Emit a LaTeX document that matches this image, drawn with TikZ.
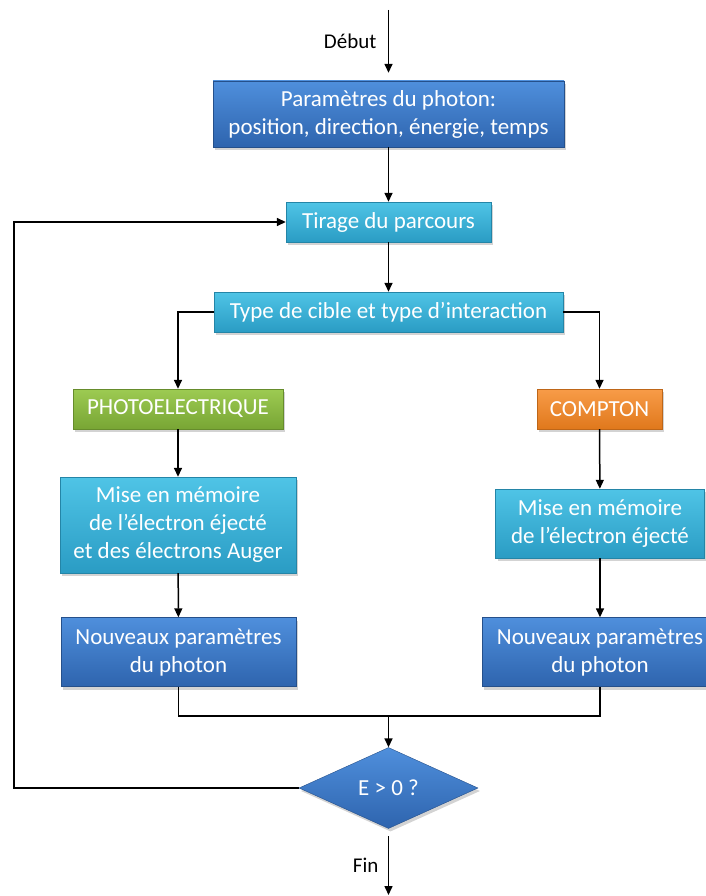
\documentclass[tikz,border=0pt]{standalone}
\usepackage{fontspec}
\setmainfont{Carlito}
\usetikzlibrary{arrows.meta,shapes.geometric,shadows}

\definecolor{bleuF}{HTML}{3C7BC8}
\definecolor{bleuFh}{HTML}{4F8FDC}
\definecolor{bleuFb}{HTML}{2E64AE}
\definecolor{cyanh}{HTML}{4FC4E6}
\definecolor{cyanb}{HTML}{2A9CC4}
\definecolor{verth}{HTML}{9DCB52}
\definecolor{vertb}{HTML}{78A534}
\definecolor{orangeh}{HTML}{F89C48}
\definecolor{orangeb}{HTML}{E0781C}

\begin{document}
\begin{tikzpicture}[x=1pt,y=-1pt,
    boite/.style={rectangle,inner sep=0pt,align=center,text=white,
      font=\fontsize{23}{28}\selectfont,
      drop shadow={opacity=0.35,shadow xshift=2pt,shadow yshift=-3pt}},
    bleu/.style={boite,top color=bleuFh,bottom color=bleuFb,draw=bleuFb!80!black},
    ciel/.style={boite,top color=cyanh,bottom color=cyanb,draw=cyanb!85!black},
    vert/.style={boite,top color=verth,bottom color=vertb,draw=vertb!85!black},
    orange/.style={boite,top color=orangeh,bottom color=orangeb,draw=orangeb!85!black},
    fleche/.style={draw,line width=1.5pt,-{Triangle[length=9pt,width=8pt]}},
    trait/.style={draw,line width=1.5pt},
    etiquette/.style={font=\fontsize{21}{25}\selectfont}]
      \useasboundingbox (0,0) rectangle (705,896);
      % blocs
      \node[bleu,minimum width=351pt,minimum height=66pt] (param) at (388.5,114)
        {Paramètres du photon:\\position, direction, énergie, temps};
      \node[ciel,minimum width=205pt,minimum height=40pt] (tirage) at (388.5,222) {Tirage du parcours};
      \node[ciel,minimum width=349pt,minimum height=40pt] (type) at (388.5,312) {Type de cible et type d’interaction};
      \node[vert,minimum width=210pt,minimum height=40pt] (photo) at (178,409) {PHOTOELECTRIQUE};
      \node[orange,minimum width=125pt,minimum height=40pt] (compton) at (599.5,409) {COMPTON};
      \node[ciel,minimum width=236pt,minimum height=96pt] (mem1) at (178,525)
        {Mise en mémoire\\de l’électron éjecté\\et des électrons Auger};
      \node[ciel,minimum width=209pt,minimum height=69pt] (mem2) at (600,523.5)
        {Mise en mémoire\\de l’électron éjecté};
      \node[bleu,minimum width=235pt,minimum height=69pt] (nouv1) at (178.5,652)
        {Nouveaux paramètres\\du photon};
      \node[bleu,minimum width=236pt,minimum height=69pt] (nouv2) at (600,652)
        {Nouveaux paramètres\\du photon};
      \node[boite,diamond,minimum width=179pt,minimum height=81pt,
        top color=bleuFh,bottom color=bleuFb,draw=bleuFb!80!black] (test) at (388.5,788) {E > 0 ?};
      % points libres
      \coordinate (debut) at (388.5,10);
      \coordinate (fin1) at (388.5,836);
      \coordinate (fin2) at (388.5,895);
      \coordinate (retour) at (14,788);
      \coordinate (jonction) at (388.5,716);
      % liaisons
      \path[fleche] (debut) -- ([yshift=8pt]param.north) node[midway,left=8pt,etiquette] {Début};
      \path[fleche] (param) -- (tirage);
      \path[fleche] (tirage) -- (type);
      \path[fleche] (type.west) -| (photo.north);
      \path[fleche] (type.east) -| (compton.north);
      \path[fleche] (photo) -- (mem1);
      \path[fleche] (compton) -- (mem2);
      \path[fleche] (mem1) -- (nouv1);
      \path[fleche] (mem2) -- (nouv2);
      \path[trait] (nouv1.south) |- (jonction) -| (nouv2.south);
      \path[fleche] (jonction) -- (test.north);
      \path[fleche] (test.west) -- (retour) |- (tirage.west);
      \path[fleche] (fin1) -- (fin2) node[midway,left=6pt,etiquette] {Fin};
    \end{tikzpicture}
\end{document}
